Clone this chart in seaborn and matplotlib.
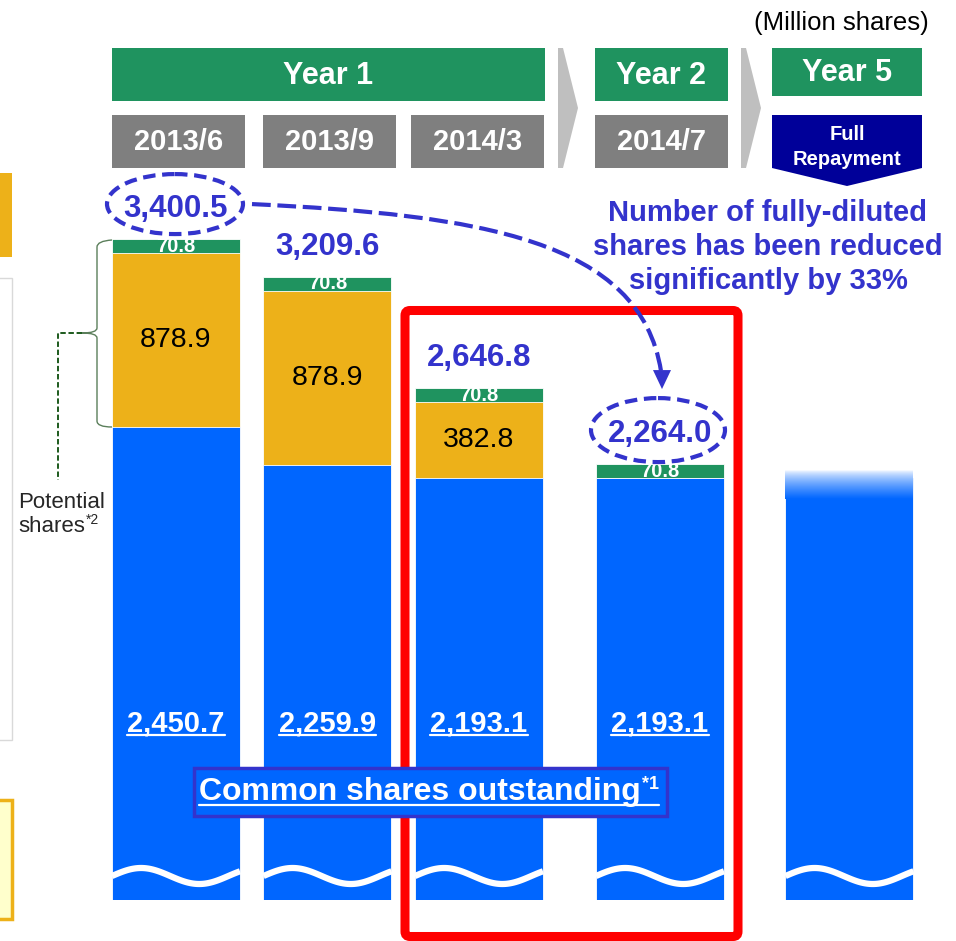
import numpy as np
import matplotlib
matplotlib.use("Agg")
import matplotlib.pyplot as plt
import seaborn as sns
from matplotlib.colors import to_rgb
from matplotlib.patches import Rectangle, Ellipse, Polygon, FancyBboxPatch, PathPatch
from matplotlib.path import Path

# Data (million shares); the 5th bar is Year 5 (full repayment)
periods = ["2013/6", "2013/9", "2014/3", "2014/7"]
common_shares = [2450.7, 2259.9, 2193.1, 2193.1, 2193.1]
potential_shares = [878.9, 878.9, 382.8, 0.0, 0.0]
option_shares = [70.8, 70.8, 70.8, 70.8, 0.0]
diluted_totals = [3400.5, 3209.6, 2646.8, 2264.0]
years = ["Year 1", "Year 2", "Year 5"]

# colours
GREEN = "#1f935f"
GOLD = "#edb119"
BLUE = "#0066ff"
TXT_BLUE = "#3333cc"
NAVY = "#000099"
GREY = "#7f7f7f"
CHEV = "#bfbfbf"
RED = "#ff0000"

# layout (pixels, figure is 956 x 941)
W, H = 956, 941
X_POS = [176, 327.5, 479, 660, 849.5]
BAR_W = 128
AX_BOTTOM = 900          # bars are cut (broken axis) here
Y_LIM = (62, 4608)

sns.set_theme(style="white")
plt.rcParams["font.family"] = ["Liberation Sans", "DejaVu Sans"]

fig = plt.figure(figsize=(W / 100, H / 100), dpi=100)
ax = fig.add_axes([0, (H - AX_BOTTOM) / H, 1, AX_BOTTOM / H])
ov = fig.add_axes([0, 0, 1, 1], zorder=5)
ov.set_xlim(0, W)
ov.set_ylim(H, 0)
ov.axis("off")
ov.patch.set_alpha(0)

# stacked bars, drawn as cumulative layers
common = np.array(common_shares)
mid = common + np.array(potential_shares)
top = mid + np.array(option_shares)
wf = BAR_W / np.diff(X_POS).min()
for vals, col in [(top, GREEN), (mid, GOLD), (common, BLUE)]:
    sns.barplot(x=X_POS, y=vals, native_scale=True, width=wf, color=col,
                saturation=1, edgecolor="white", linewidth=0.6,
                errorbar=None, ax=ax)

# faded top of the Year 5 bar
grad = 1 + np.linspace(0, 1, 80)[:, None, None] ** 0.7 * (np.array(to_rgb(BLUE)) - 1)
ax.imshow(grad, extent=(X_POS[4] - BAR_W / 2, X_POS[4] + BAR_W / 2, 2090, 2235),
          aspect="auto", zorder=3, interpolation="bilinear")

ax.set_xlim(0, W)
ax.set_ylim(*Y_LIM)
ax.axis("off")


def to_px(x, y):
    return ov.transData.inverted().transform(ax.transData.transform((x, y)))


# segment labels
for i in range(4):
    ax.text(X_POS[i], mid[i] + option_shares[i] / 2, f"{option_shares[i]:.1f}",
            ha="center", va="center", color="white", fontsize=14.5,
            fontweight="bold", zorder=4)
    if potential_shares[i] > 0:
        ax.text(X_POS[i], common[i] + potential_shares[i] / 2,
                f"{potential_shares[i]:.1f}", ha="center", va="center",
                color="black", fontsize=20.5, zorder=4)

# red highlight frame
ov.add_patch(FancyBboxPatch((405, 310.5), 333, 626,
                            boxstyle="round,pad=0,rounding_size=5",
                            fill=False, ec=RED, lw=6.5, zorder=2))

# wavy break marks
t = np.linspace(0, 1, 80)
for x in X_POS:
    ov.plot(x - BAR_W / 2 + t * BAR_W, 876 - 8 * np.sin(2 * np.pi * t * 1.1),
            color="white", lw=4.5, solid_capstyle="butt", zorder=3)

# totals
lab_pos = []
for i in range(4):
    cx, cy = to_px(X_POS[i], top[i])
    ov.text(cx, cy - 30, f"{diluted_totals[i]:,.1f}", ha="center", va="center",
            color=TXT_BLUE, fontsize=22.5, fontweight="bold", zorder=6)
    lab_pos.append((cx, cy - 30))

e0 = (lab_pos[0][0] - 1, lab_pos[0][1] - 5)
e3 = (lab_pos[3][0] - 2, lab_pos[3][1] - 4)
for (ex, ey), (w, h) in [(e0, (136, 60)), (e3, (134, 64))]:
    ov.add_patch(Ellipse((ex, ey), w, h, fill=False, ec=TXT_BLUE, lw=3,
                         ls=(0, (3, 1.6)), zorder=6))

tip = (e3[0] + 4, e3[1] - 32 - 9)
verts = [(e0[0] + 77, e0[1]), (480, 215), (640, 240), (tip[0] - 1, tip[1] - 18)]
ov.add_patch(PathPatch(Path(verts, [Path.MOVETO, Path.CURVE4, Path.CURVE4, Path.CURVE4]),
                       fill=False, ec=TXT_BLUE, lw=3, ls=(0, (4.5, 1.6)),
                       capstyle="butt", zorder=6))
ov.add_patch(Polygon([(tip[0] - 9, tip[1] - 19), (tip[0] + 9, tip[1] - 19), tip],
                     closed=True, fc=TXT_BLUE, ec="none", zorder=6))

ov.text(768, 247, "Number of fully-diluted\nshares has been reduced\nsignificantly by 33%",
        ha="center", va="center", color=TXT_BLUE, fontsize=21, fontweight="bold",
        linespacing=1.27, zorder=6)

# headers
hdr = [(112, 48, 433, 53, years[0]), (595, 48, 133, 53, years[1]), (772, 48, 150, 48, years[2])]
for x, y, w, h, s in hdr:
    ov.add_patch(Rectangle((x, y), w, h, fc=GREEN, ec="none"))
    ov.text(x + w / 2, y + h / 2 + 1, s, ha="center", va="center", color="white",
            fontsize=22, fontweight="bold")
for x, s in zip([112, 263, 411, 595], periods):
    ov.add_patch(Rectangle((x, 115), 133, 53, fc=GREY, ec="none"))
    ov.text(x + 66.5, 142, s, ha="center", va="center", color="white",
            fontsize=21, fontweight="bold")
ov.add_patch(Polygon([(772, 115), (922, 115), (922, 168), (847, 186), (772, 168)],
                     closed=True, fc=NAVY, ec="none"))
ov.text(847, 147, "Full\nRepayment", ha="center", va="center", color="white",
        fontsize=14.5, fontweight="bold", linespacing=1.35)
for cx in [558, 741]:
    ov.add_patch(Polygon([(cx, 48), (cx + 5, 48), (cx + 20, 108), (cx + 5, 168), (cx, 168)],
                         closed=True, fc=CHEV, ec="none"))
ov.text(841, 23, "(Million shares)", ha="center", va="center", color="black", fontsize=18.5)

# left side: cut-off panels, brace and note
ov.add_patch(Rectangle((-3, 173), 15, 84, fc=GOLD, ec="none"))
ov.add_patch(Rectangle((-3, 278), 15, 462, fc="white", ec="#d9d9d9", lw=1))
ov.add_patch(Rectangle((-3, 800), 15, 119, fc="#ffffcc", ec=GOLD, lw=2.5))
brace = [(112, 240), (97, 241), (97, 247), (97, 328), (97, 333), (82, 333),
         (97, 333), (97, 338), (97, 421), (97, 427), (112, 427)]
bcodes = [Path.MOVETO, Path.CURVE3, Path.CURVE3, Path.LINETO, Path.CURVE3, Path.CURVE3,
          Path.CURVE3, Path.CURVE3, Path.LINETO, Path.CURVE3, Path.CURVE3]
ov.add_patch(PathPatch(Path(brace, bcodes), fill=False, ec="#5b7f5b", lw=1))
ov.plot([82, 58, 58], [333, 333, 480], color="#0b4d0b", lw=1.3, ls=(0, (3, 1.5)))

txt_p1 = ov.text(18, 508, "Potential", ha="left", va="baseline", fontsize=16)
txt_p2 = ov.text(18, 532, "shares", ha="left", va="baseline", fontsize=16)

# common shares labels and box
ov.add_patch(Rectangle((194, 768), 473, 48, fc=BLUE, ec=TXT_BLUE, lw=2.5, zorder=4))
txt_cs = ov.text(199, 800, "Common shares outstanding", ha="left", va="baseline",
                 color="white", fontsize=23, fontweight="bold", zorder=5)
num_txts = []
for i in range(4):
    num_txts.append(ov.text(X_POS[i], 731, f"{common_shares[i]:,.1f}", ha="center",
                            va="baseline", color="white", fontsize=21,
                            fontweight="bold", zorder=5))

# superscripts and underlines need the rendered text extents
fig.canvas.draw()
renderer = fig.canvas.get_renderer()
inv = ov.transData.inverted()


def xspan(txt):
    bb = txt.get_window_extent(renderer)
    return inv.transform((bb.x0, bb.y0))[0], inv.transform((bb.x1, bb.y1))[0]


x0, x1 = xspan(txt_p2)
ov.text(x1 + 1, 524, "*2", ha="left", va="baseline", fontsize=10)
x0, x1 = xspan(txt_cs)
sup = ov.text(x1 + 1, 789, "*1", ha="left", va="baseline", color="white",
              fontsize=13, fontweight="bold", zorder=5)
fig.canvas.draw()
s0, s1 = xspan(sup)
ov.plot([x0, s1], [805, 805], color="white", lw=1.6, zorder=5)
for t_ in num_txts:
    a, b = xspan(t_)
    ov.plot([a, b], [734.5, 734.5], color="white", lw=1.6, zorder=5)

fig.savefig("out.png", dpi=100)
